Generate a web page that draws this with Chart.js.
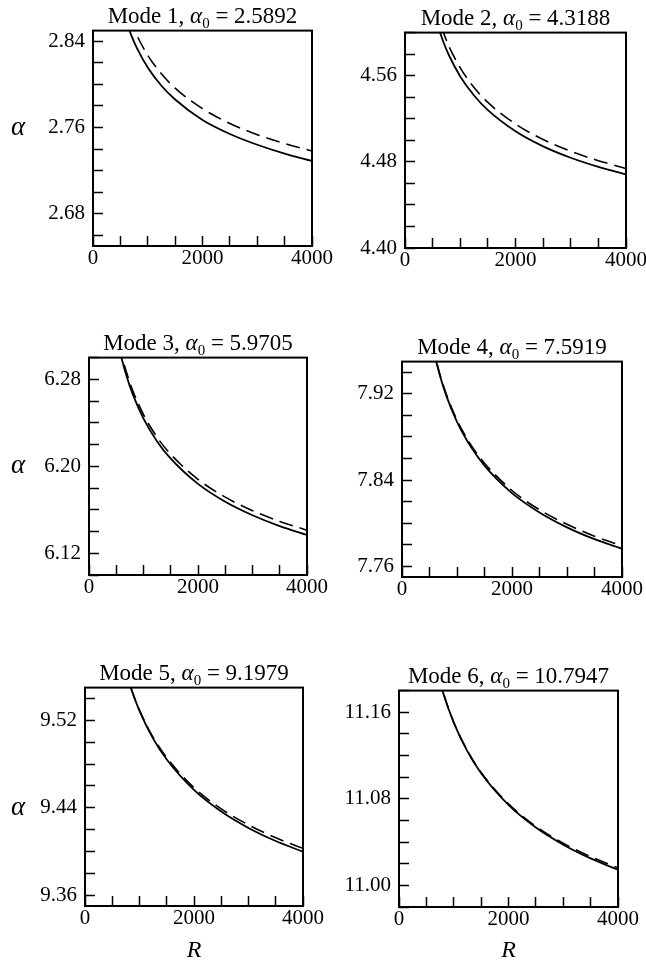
<!DOCTYPE html>
<html><head><meta charset="utf-8">
<script src="https://cdn.jsdelivr.net/npm/chart.js@4/dist/chart.umd.min.js"></script>
<style>
html,body{margin:0;padding:0;background:#fff;overflow:hidden;width:646px;height:965px;}
#wrap{position:relative;width:646px;height:965px;overflow:hidden;}
canvas{position:absolute;}
</style></head><body><div id="wrap"></div>
<script>
// ---------- data ----------
const R = [550, 600, 700, 800, 1000, 1250, 1500, 2000, 2500, 3000, 3500, 4000];

const modeNames = ['Mode 1', 'Mode 2', 'Mode 3', 'Mode 4', 'Mode 5', 'Mode 6'];
const alpha0Values = ['2.5892', '4.3188', '5.9705', '7.5919', '9.1979', '10.7947'];

const solid1  = [2.868, 2.8596, 2.8456, 2.834, 2.8158, 2.7988, 2.786, 2.767, 2.754, 2.744, 2.7358, 2.729];
const dashed1 = [2.8804, 2.8721, 2.8578, 2.8458, 2.827, 2.8099, 2.7966, 2.7775, 2.7638, 2.7534, 2.7451, 2.7382];
const solid2  = [4.614, 4.6054, 4.5906, 4.5785, 4.5593, 4.5416, 4.528, 4.5084, 4.4944, 4.4838, 4.4753, 4.4683];
const dashed2 = [4.623, 4.6144, 4.5994, 4.5867, 4.5672, 4.549, 4.5352, 4.5151, 4.5007, 4.4898, 4.4811, 4.4738];
const solid3  = [6.3095, 6.2989, 6.2813, 6.2666, 6.2439, 6.2229, 6.207, 6.1838, 6.1674, 6.155, 6.145, 6.1369];
const dashed3 = [6.3122, 6.3018, 6.2846, 6.27, 6.2476, 6.2267, 6.211, 6.188, 6.1716, 6.1592, 6.1493, 6.1412];
const solid4  = [7.9659, 7.9545, 7.9352, 7.9191, 7.8941, 7.8711, 7.8534, 7.8279, 7.8099, 7.7961, 7.7851, 7.7762];
const dashed4 = [7.9665, 7.9553, 7.9362, 7.9206, 7.8957, 7.8729, 7.8557, 7.8303, 7.8124, 7.7989, 7.7879, 7.779];
const solid5  = [9.6071, 9.5945, 9.5734, 9.5561, 9.5286, 9.5033, 9.4842, 9.4563, 9.4365, 9.4215, 9.4095, 9.3997];
const dashed5 = [9.6056, 9.5932, 9.5728, 9.5558, 9.5291, 9.5045, 9.4858, 9.4583, 9.439, 9.4243, 9.4125, 9.4028];
const solid6  = [11.2327, 11.2194, 11.1972, 11.179, 11.1504, 11.1238, 11.1036, 11.0743, 11.0534, 11.0376, 11.0249, 11.0144];
const dashed6 = [11.2327, 11.2194, 11.1972, 11.1792, 11.1508, 11.1244, 11.1044, 11.0753, 11.0546, 11.039, 11.0265, 11.0162];

// y-axis ranges and labelled ticks
const yRange1 = [2.65, 2.85],  yLabels1 = [2.68, 2.76, 2.84];
const yRange2 = [4.40, 4.60],  yLabels2 = [4.40, 4.48, 4.56];
const yRange3 = [6.10, 6.30],  yLabels3 = [6.12, 6.20, 6.28];
const yRange4 = [7.75, 7.95],  yLabels4 = [7.76, 7.84, 7.92];
const yRange5 = [9.35, 9.55],  yLabels5 = [9.36, 9.44, 9.52];
const yRange6 = [10.98, 11.18], yLabels6 = [11.00, 11.08, 11.16];
const yMinorStep = 0.02;

const xRange = [0, 4000];
const xLabels = [0, 2000, 4000];
const xMinorStep = 500;

const yAxisTitle = 'α';
const xAxisTitle = 'R';
const titleSymbol = 'α';
const titleSub = '0';

// ---------- layout / style ----------
const SERIF = "'Liberation Serif', 'Times New Roman', 'DejaVu Serif', serif";
const boxes = [
  {left: 93,  top: 30,  right: 312, bottom: 246},
  {left: 405, top: 32,  right: 626, bottom: 248},
  {left: 89,  top: 357, right: 307, bottom: 575},
  {left: 402, top: 361, right: 622, bottom: 577},
  {left: 85,  top: 687, right: 303, bottom: 906},
  {left: 399, top: 690, right: 618, bottom: 907}
];
const RIGHT_PAD = 34;

const panels = [
  {solid: solid1, dashed: dashed1, range: yRange1, labels: yLabels1},
  {solid: solid2, dashed: dashed2, range: yRange2, labels: yLabels2},
  {solid: solid3, dashed: dashed3, range: yRange3, labels: yLabels3},
  {solid: solid4, dashed: dashed4, range: yRange4, labels: yLabels4},
  {solid: solid5, dashed: dashed5, range: yRange5, labels: yLabels5},
  {solid: solid6, dashed: dashed6, range: yRange6, labels: yLabels6}
];

const framePlugin = {
  id: 'frame',
  afterDraw(chart) {
    const {ctx, chartArea: a} = chart;
    ctx.save();
    ctx.strokeStyle = '#000';
    ctx.lineWidth = 2;
    ctx.strokeRect(a.left, a.top, a.right - a.left, a.bottom - a.top);
    ctx.restore();
  }
};

// panel title "Mode n, α0 = x" with italic alpha and subscript 0
const titlePlugin = {
  id: 'modeTitle',
  afterDraw(chart, args, opts) {
    const {ctx, chartArea: a} = chart;
    const parts = [
      {t: opts.name + ', ', f: '23px ' + SERIF, dy: 0},
      {t: titleSymbol, f: 'italic 23px ' + SERIF, dy: 0},
      {t: titleSub, f: '15px ' + SERIF, dy: 5},
      {t: ' = ' + opts.value, f: '23px ' + SERIF, dy: 0}
    ];
    ctx.save();
    ctx.fillStyle = '#000';
    ctx.textBaseline = 'alphabetic';
    ctx.textAlign = 'left';
    let total = 0;
    parts.forEach(p => { ctx.font = p.f; p.w = ctx.measureText(p.t).width; total += p.w; });
    let x = (a.left + a.right) / 2 - total / 2;
    const y = a.top - 8;
    parts.forEach(p => { ctx.font = p.f; ctx.fillText(p.t, x, y + p.dy); x += p.w; });
    ctx.restore();
  }
};

const alphaPlugin = {
  id: 'alphaLabel',
  afterDraw(chart, args, opts) {
    if (!opts.show) return;
    const {ctx} = chart;
    const y = chart.scales.y.getPixelForValue(opts.value);
    ctx.save();
    ctx.fillStyle = '#000';
    ctx.font = "italic 27px " + SERIF;
    ctx.textAlign = 'center';
    ctx.textBaseline = 'middle';
    ctx.fillText(yAxisTitle, opts.x, y);
    ctx.restore();
  }
};

const wrap = document.getElementById('wrap');
const r3 = v => Math.round(v * 1000) / 1000;

panels.forEach((p, i) => {
  const box = boxes[i];
  const col = i % 2, row = Math.floor(i / 2);
  const cLeft = col === 0 ? 0 : 330;
  const cTop = box.top - 30;
  const cBottom = row === 2 ? 965 : box.bottom + 42;
  const cRight = box.right + RIGHT_PAD;
  const W = cRight - cLeft, H = cBottom - cTop;
  const canvas = document.createElement('canvas');
  canvas.width = W; canvas.height = H;
  canvas.style.left = cLeft + 'px'; canvas.style.top = cTop + 'px';
  canvas.style.width = W + 'px'; canvas.style.height = H + 'px';
  wrap.appendChild(canvas);

  const yTicks = [];
  for (let v = Math.ceil(r3(p.range[0] / yMinorStep) - 1e-6) * yMinorStep; v <= p.range[1] + 1e-9; v += yMinorStep) yTicks.push(r3(v));
  const xTicks = [];
  for (let v = xRange[0]; v <= xRange[1]; v += xMinorStep) xTicks.push(v);

  new Chart(canvas, {
    type: 'line',
    data: {
      datasets: [
        {label: 'solid', data: R.map((r, k) => ({x: r, y: p.solid[k]})), borderColor: '#000', borderWidth: 1.8,
         pointRadius: 0, cubicInterpolationMode: 'monotone', fill: false},
        {label: 'dashed', data: R.map((r, k) => ({x: r, y: p.dashed[k]})), borderColor: '#000', borderWidth: 1.6,
         borderDash: [14, 7], pointRadius: 0, cubicInterpolationMode: 'monotone', fill: false}
      ]
    },
    options: {
      responsive: false, animation: false, devicePixelRatio: 1,
      layout: {padding: {left: 0, right: RIGHT_PAD, top: 30, bottom: 0}},
      plugins: {
        legend: {display: false},
        tooltip: {enabled: false},
        title: {display: false},
        modeTitle: {name: modeNames[i], value: alpha0Values[i]},
        alphaLabel: {show: col === 0, value: p.labels[1], x: 18}
      },
      scales: {
        x: {
          type: 'linear', position: 'bottom', min: xRange[0], max: xRange[1],
          afterBuildTicks: s => { s.ticks = xTicks.map(v => ({value: v})); },
          afterFit: s => { s.height = cBottom - box.bottom; },
          ticks: {autoSkip: false, maxRotation: 0, padding: 10, color: '#000',
                  font: {family: SERIF, size: 21},
                  callback: v => xLabels.includes(v) ? String(v) : ''},
          grid: {drawOnChartArea: false, drawTicks: true, tickLength: -10, tickColor: '#000', tickWidth: 1.5},
          border: {display: false},
          title: {display: row === 2, text: xAxisTitle, color: '#000',
                  font: {family: SERIF, size: 24, style: 'italic'}, padding: {top: 0, bottom: 0}}
        },
        y: {
          type: 'linear', position: 'left', min: p.range[0], max: p.range[1],
          afterBuildTicks: s => { s.ticks = yTicks.map(v => ({value: v})); },
          afterFit: s => { s.width = box.left - cLeft; },
          ticks: {autoSkip: false, padding: 18, color: '#000', font: {family: SERIF, size: 21},
                  callback: v => p.labels.some(l => Math.abs(l - v) < 1e-6) ? v.toFixed(2) : ''},
          grid: {drawOnChartArea: false, drawTicks: true, tickLength: -10, tickColor: '#000', tickWidth: 1.5},
          border: {display: false}
        }
      }
    },
    plugins: [framePlugin, titlePlugin, alphaPlugin]
  });
});
</script>
</body></html>
